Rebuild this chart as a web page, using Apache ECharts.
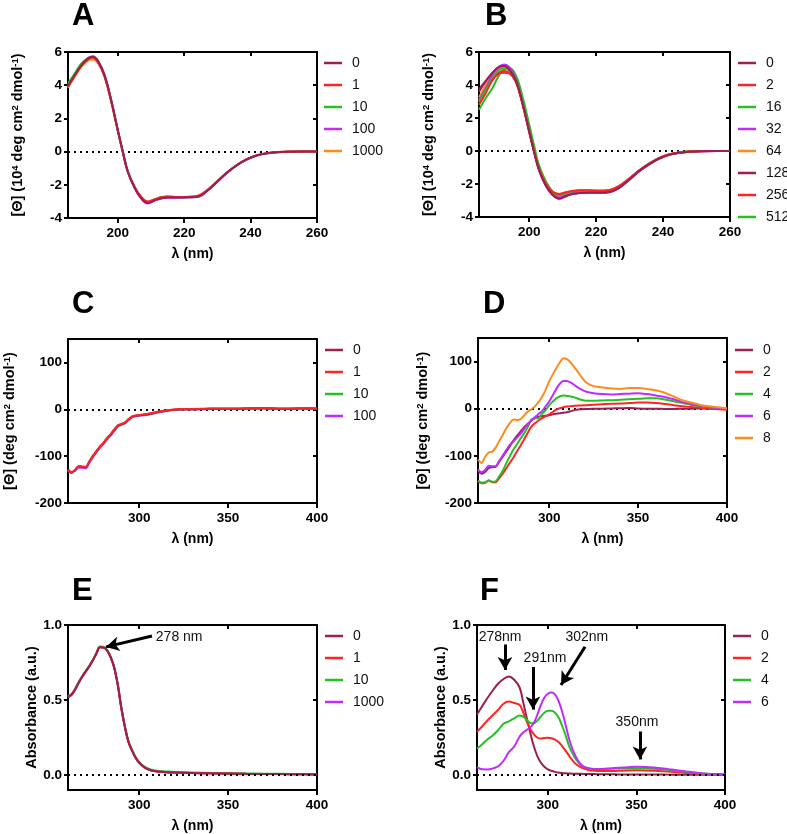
<!DOCTYPE html>
<html><head><meta charset="utf-8">
<script src="https://cdn.jsdelivr.net/npm/echarts@6/dist/echarts.min.js"></script>
<style>html,body{margin:0;padding:0;background:#fff}#c{width:787px;height:834px}</style>
</head><body><div id="c"></div>
<script>
// ---------- DATA ----------
const ticksXAB = [200, 220, 240, 260];
const ticksYAB = [-4, -2, 0, 2, 4, 6];
const ticksXCDEF = [300, 350, 400];
const ticksYCD = [-200, -100, 0, 100];
const ticksYEF = [0, 0.5, 1.0];

const wlA = [185,187,189,191,192.5,194,196,198,200,201.5,203,205,207,209,211,213,215,218,221,224,227,230,233,236,239,242,245,248,252,256,260];
const A0    = [3.95,4.6,5.2,5.6,5.72,5.45,4.6,3.1,1.3,0.0,-1.2,-2.15,-2.8,-3.1,-2.95,-2.82,-2.76,-2.76,-2.75,-2.72,-2.35,-1.8,-1.25,-0.8,-0.45,-0.22,-0.1,-0.04,-0.01,0,0];
const A1    = [3.9,4.55,5.15,5.55,5.65,5.4,4.55,3.05,1.25,-0.02,-1.2,-2.1,-2.72,-3.0,-2.88,-2.76,-2.72,-2.74,-2.73,-2.68,-2.32,-1.78,-1.24,-0.79,-0.44,-0.21,-0.09,-0.03,0,0,0];
const A10   = [4.1,4.7,5.3,5.62,5.7,5.42,4.58,3.08,1.28,0.0,-1.18,-2.12,-2.76,-3.05,-2.9,-2.74,-2.7,-2.75,-2.75,-2.7,-2.33,-1.78,-1.25,-0.8,-0.45,-0.22,-0.1,-0.04,-0.01,0,0];
const A100  = [4.0,4.65,5.25,5.65,5.75,5.5,4.65,3.12,1.3,0.0,-1.22,-2.17,-2.82,-3.12,-2.96,-2.83,-2.78,-2.78,-2.76,-2.73,-2.36,-1.82,-1.27,-0.81,-0.46,-0.23,-0.1,-0.04,-0.01,0,0];
const A1000 = [3.85,4.5,5.1,5.48,5.55,5.35,4.5,3.0,1.22,-0.03,-1.2,-2.1,-2.72,-3.02,-2.88,-2.75,-2.7,-2.73,-2.72,-2.66,-2.3,-1.77,-1.24,-0.79,-0.44,-0.21,-0.09,-0.03,0,0,0];

const wlB = [185,187,189,191,192.5,194,196,198,200,201.5,203,205,207,209,211,213,215,218,221,224,227,230,233,236,239,242,245,248,252,256,260];
const B0   = [3.75,4.25,4.75,5.1,5.15,4.95,4.3,2.9,1.2,-0.1,-1.2,-2.1,-2.65,-2.88,-2.72,-2.6,-2.54,-2.52,-2.52,-2.48,-2.2,-1.72,-1.2,-0.78,-0.44,-0.22,-0.1,-0.04,-0.01,0,0];
const B2   = [2.8,3.5,4.3,4.7,4.75,4.7,4.2,2.85,1.15,-0.05,-1.1,-2.0,-2.48,-2.6,-2.5,-2.42,-2.38,-2.38,-2.4,-2.36,-2.1,-1.65,-1.15,-0.75,-0.42,-0.2,-0.09,-0.03,0,0,0];
const B16  = [3.0,3.7,4.4,4.9,5.0,4.9,4.35,3.0,1.3,0.05,-1.1,-2.0,-2.55,-2.68,-2.56,-2.46,-2.43,-2.43,-2.45,-2.4,-2.13,-1.67,-1.17,-0.76,-0.43,-0.21,-0.09,-0.03,0,0,0];
const B32  = [3.1,3.8,4.6,5.1,5.25,5.1,4.4,2.95,1.2,-0.05,-1.15,-2.1,-2.65,-2.82,-2.66,-2.55,-2.5,-2.5,-2.5,-2.46,-2.18,-1.7,-1.19,-0.77,-0.44,-0.22,-0.1,-0.04,-0.01,0,0];
const B64  = [3.25,4.0,4.6,5.0,5.05,4.9,4.3,2.9,1.2,-0.05,-1.15,-2.05,-2.6,-2.76,-2.62,-2.5,-2.47,-2.47,-2.48,-2.44,-2.16,-1.69,-1.18,-0.77,-0.43,-0.21,-0.09,-0.03,0,0,0];
const B128 = [3.6,4.2,4.7,5.1,5.2,5.0,4.35,2.95,1.25,-0.05,-1.18,-2.1,-2.67,-2.9,-2.74,-2.6,-2.55,-2.53,-2.53,-2.5,-2.22,-1.73,-1.21,-0.79,-0.45,-0.22,-0.1,-0.04,-0.01,0,0];
const B256 = [3.0,3.6,4.3,4.75,4.85,4.75,4.2,2.85,1.18,-0.05,-1.12,-2.02,-2.52,-2.64,-2.52,-2.43,-2.4,-2.4,-2.42,-2.38,-2.11,-1.66,-1.16,-0.75,-0.42,-0.2,-0.09,-0.03,0,0,0];
const B512 = [2.5,3.2,3.8,4.6,4.95,5.05,4.6,3.3,1.6,0.3,-0.9,-1.85,-2.45,-2.62,-2.55,-2.5,-2.47,-2.47,-2.5,-2.45,-2.2,-1.72,-1.18,-0.74,-0.41,-0.2,-0.08,-0.03,0,0,0];

const wlC = [260,262,264,266,268,270,272,274,276,278,280,282,284,286,288,290,292,294,296,298,300,304,308,312,316,320,325,330,340,350,360,370,380,390,400];
const C0   = [-129,-135,-130,-122,-123,-124,-112,-100,-90,-80,-72,-62,-54,-44,-35,-32,-29,-22,-16,-14,-13,-11,-8,-5,-2.5,-1,0,0,1,1,1.5,2,1,1.5,1.5];
const C1   = [-130,-134,-129,-121,-122,-123,-111,-99,-89,-79,-71,-61,-53,-43,-34,-31,-28,-21,-15,-13,-12,-10,-7,-4,-2,-0.5,0.5,0.5,1.5,1.5,2,2.5,1.5,2,2];
const C10  = [-129,-135,-130,-122,-123,-124,-112,-100,-90,-80,-72,-62,-54,-44,-35,-32,-29,-22,-16,-14,-13,-11,-8,-5,-2.5,-1,0,0,1,1,1.5,2,1,1.5,1.5];
const C100 = [-131,-136,-131,-124,-125,-126,-114,-102,-92,-82,-74,-64,-56,-46,-37,-33,-30,-23,-17,-15,-14,-12,-9,-6,-3,-1.5,-0.5,-0.5,0.5,0.5,1,1.5,0.5,1,1];

const wlD = [260,262,264,266,268,270,272,274,276,278,280,282,284,286,288,290,292,294,296,298,300,302,304,306,308,310,312,315,318,321,325,330,335,340,345,350,355,360,365,370,375,380,385,390,395,400];
const D0 = [-132,-138,-134,-126,-124,-123,-112,-101,-90,-79,-67,-57,-48,-39,-32,-25,-20,-17,-16,-15,-14,-12,-10.6,-9.5,-8.5,-7.5,-5.5,-2.5,-1,-0.5,0,0,0.5,1,1.5,0.5,0,0,-0.5,-0.5,0,0,0.5,0,0,0];
const D2 = [-153,-158,-157,-152,-156,-156,-147,-137,-126,-114,-103,-90,-78,-65,-51,-38,-31,-25,-20,-16,-12,-7,-2,1,3,4.5,5.5,6.3,7,7.5,8.5,9.5,10.5,11,12,13,13,12,10,7.5,5,3.5,2,0,-1,-2];
const D4 = [-153,-157,-156,-153,-155,-154,-143,-131,-115,-100,-86,-75,-63,-52,-39,-23,-20,-20,-11,-3,7,15,22,26,28,27,26,23,19,17,17,17.6,18,19,20,21,22,22,19.5,16,12,8,5,3,1.5,0.7];
const D6 = [-129,-135,-130,-121,-122,-122,-110,-99,-87,-76,-69,-61,-53,-43,-33,-25,-18,-11,-5,5,15,28,42,53,59,59,56,48,41,36,33,31,30,31,32,33,31,28,25,20,14,10,6,3,1.5,0];
const D8 = [-108,-115,-102,-93,-91,-82,-68,-55,-41,-30,-23,-24,-22,-14,-6,-1,5,14,25,40,58,72,86,98,107,105,98,84,68,55,48,45,43,42,44,44,42,39,34,26,18,13,8,5,3,1];

const wlE = [260,262,264,266,268,270,272,274,276,278,280,282,284,286,288,290,292,294,296,298,300,303,306,310,315,320,330,340,350,360,370,380,390,400];
const E0    = [0.52,0.535,0.57,0.615,0.655,0.69,0.725,0.765,0.81,0.852,0.85,0.83,0.785,0.715,0.6,0.445,0.32,0.22,0.163,0.115,0.082,0.05,0.033,0.024,0.019,0.016,0.013,0.011,0.01,0.008,0.007,0.006,0.005,0.004];
const E1    = [0.52,0.535,0.57,0.615,0.655,0.69,0.725,0.765,0.81,0.851,0.849,0.829,0.784,0.714,0.6,0.445,0.32,0.22,0.163,0.115,0.082,0.05,0.033,0.024,0.019,0.016,0.013,0.011,0.01,0.008,0.007,0.006,0.005,0.004];
const E10   = [0.525,0.54,0.575,0.62,0.66,0.695,0.73,0.77,0.815,0.857,0.855,0.834,0.789,0.72,0.605,0.45,0.325,0.226,0.169,0.121,0.088,0.056,0.039,0.029,0.024,0.02,0.017,0.014,0.012,0.01,0.009,0.008,0.007,0.006];
const E1000 = [0.52,0.535,0.57,0.615,0.655,0.69,0.725,0.765,0.81,0.852,0.85,0.83,0.785,0.715,0.6,0.445,0.32,0.22,0.163,0.115,0.082,0.05,0.033,0.024,0.019,0.016,0.013,0.011,0.01,0.008,0.007,0.006,0.005,0.004];

const wlF = [260,263,266,269,272,275,278,281,284,286,288,290,292,294,296,298,300,302,304,306,308,310,312,314,316,318,320,323,326,330,335,340,345,350,355,360,365,370,375,380,385,390,395,400];
const F0 = [0.403,0.46,0.515,0.565,0.61,0.64,0.657,0.635,0.585,0.49,0.385,0.285,0.195,0.128,0.083,0.055,0.038,0.028,0.021,0.016,0.013,0.011,0.01,0.009,0.009,0.008,0.007,0.006,0.006,0.005,0.005,0.004,0.004,0.004,0.003,0.003,0.003,0.002,0.002,0.002,0.001,0.001,0.001,0];
const F2 = [0.288,0.325,0.365,0.4,0.435,0.475,0.49,0.48,0.468,0.42,0.36,0.31,0.272,0.25,0.243,0.247,0.248,0.245,0.236,0.22,0.193,0.162,0.128,0.096,0.072,0.056,0.045,0.034,0.029,0.026,0.026,0.028,0.03,0.031,0.03,0.028,0.025,0.021,0.016,0.012,0.008,0.006,0.004,0.003];
const F4 = [0.177,0.205,0.238,0.265,0.3,0.342,0.358,0.378,0.396,0.39,0.37,0.347,0.345,0.362,0.39,0.415,0.428,0.428,0.415,0.385,0.33,0.265,0.193,0.143,0.102,0.075,0.056,0.045,0.04,0.04,0.042,0.043,0.044,0.044,0.043,0.041,0.038,0.032,0.025,0.018,0.012,0.008,0.005,0.004];
const F6 = [0.053,0.038,0.037,0.044,0.058,0.095,0.152,0.19,0.255,0.283,0.3,0.316,0.345,0.4,0.465,0.515,0.542,0.55,0.538,0.495,0.425,0.335,0.24,0.17,0.117,0.08,0.058,0.044,0.039,0.04,0.044,0.048,0.052,0.055,0.054,0.05,0.044,0.036,0.028,0.021,0.014,0.009,0.006,0.004];

// annotations (data coordinates)
const annE_text = ['278 nm'];
const annE_textPos = [[322.5, 0.92]];
const annE_from = [[307.2, 0.927]];
const annE_to = [[281.4, 0.854]];
const annF_text = ['278nm', '291nm', '302nm', '350nm'];
const annF_textPos = [[273, 0.92], [298.4, 0.78], [322, 0.92], [350.3, 0.35]];
const annF_from = [[275.8, 0.87], [291.6, 0.72], [321, 0.855], [352, 0.29]];
const annF_to = [[275.8, 0.70], [291.6, 0.436], [307.4, 0.60], [352, 0.104]];

// ---------- STYLE ----------
const FONT = '"Liberation Sans", Arial, Helvetica, sans-serif';
const COL = {maroon: '#9c1f52', red: '#ff2424', green: '#24c024', purple: '#bf2cff', orange: '#ff8c1a'};
const pairs = (wl, ys) => wl.map((x, i) => [x, ys[i]]);

const nameCD4 = '[Θ] (10{s|4} deg cm{s|2} dmol{s|-1})';
const nameCD = '[Θ] (deg cm{s|2} dmol{s|-1})';
const nameAbs = 'Absorbance (a.u.)';

const panels = [
  {k: 'A', grid: {left: 68, top: 52, width: 249, height: 166}, xr: [185, 260], xt: ticksXAB, yr: [-4, 6], yt: ticksYAB, yf: v => String(v),
   yn: nameCD4, yg: 43, wl: wlA, leg: {left: 324, top: 56},
   s: [['0', A0, 'maroon'], ['1', A1, 'red'], ['10', A10, 'green'], ['100', A100, 'purple'], ['1000', A1000, 'orange']], order: [4, 3, 2, 1, 0]},
  {k: 'B', grid: {left: 479, top: 52, width: 251, height: 165}, xr: [185, 260], xt: ticksXAB, yr: [-4, 6], yt: ticksYAB, yf: v => String(v),
   yn: nameCD4, yg: 43, wl: wlB, leg: {left: 738, top: 56},
   s: [['0', B0, 'maroon'], ['2', B2, 'red'], ['16', B16, 'green'], ['32', B32, 'purple'], ['64', B64, 'orange'], ['128', B128, 'maroon'], ['256', B256, 'red'], ['512', B512, 'green']], order: [7, 6, 5, 4, 3, 2, 1, 0]},
  {k: 'C', grid: {left: 68, top: 339, width: 249, height: 164}, xr: [260, 400], xt: ticksXCDEF, yr: [-200, 150], yt: ticksYCD, yf: v => String(v),
   yn: nameCD, yg: 51, wl: wlC, leg: {left: 325, top: 343},
   s: [['0', C0, 'maroon'], ['1', C1, 'red'], ['10', C10, 'green'], ['100', C100, 'purple']], order: [3, 2, 0, 1]},
  {k: 'D', grid: {left: 478, top: 338, width: 249, height: 165}, xr: [260, 400], xt: ticksXCDEF, yr: [-200, 150], yt: ticksYCD, yf: v => String(v),
   yn: nameCD, yg: 48, wl: wlD, leg: {left: 735, top: 343},
   s: [['0', D0, 'maroon'], ['2', D2, 'red'], ['4', D4, 'green'], ['6', D6, 'purple'], ['8', D8, 'orange']], order: [0, 1, 2, 3, 4]},
  {k: 'E', grid: {left: 68, top: 625, width: 249, height: 165}, xr: [260, 400], xt: ticksXCDEF, yr: [-0.1, 1.0], yt: ticksYEF, yf: v => v.toFixed(1),
   yn: nameAbs, yg: 29, wl: wlE, leg: {left: 325, top: 629},
   s: [['0', E0, 'maroon'], ['1', E1, 'red'], ['10', E10, 'green'], ['1000', E1000, 'purple']], order: [3, 2, 1, 0]},
  {k: 'F', grid: {left: 477, top: 625, width: 248, height: 165}, xr: [260, 400], xt: ticksXCDEF, yr: [-0.1, 1.0], yt: ticksYEF, yf: v => v.toFixed(1),
   yn: nameAbs, yg: 29, wl: wlF, leg: {left: 733, top: 629},
   s: [['0', F0, 'maroon'], ['2', F2, 'red'], ['4', F4, 'green'], ['6', F6, 'purple']], order: [0, 1, 2, 3]}
];

const letters = [
  {t: 'A', left: 72, top: 1}, {t: 'B', left: 485, top: 1},
  {t: 'C', left: 72, top: 289}, {t: 'D', left: 483, top: 289},
  {t: 'E', left: 72, top: 576}, {t: 'F', left: 480, top: 576}
];

const grids = [], xAxes = [], yAxes = [], series = [], legends = [];
const lineCol = '#000';
panels.forEach((p, i) => {
  grids.push(Object.assign({containLabel: false}, p.grid));
  const xi = xAxes.length, yi = yAxes.length;
  xAxes.push({
    type: 'value', gridIndex: i, min: p.xr[0], max: p.xr[1], position: 'bottom',
    axisLine: {show: true, onZero: false, lineStyle: {color: lineCol, width: 2}},
    axisTick: {show: true, inside: false, length: 5, lineStyle: {color: lineCol, width: 2}, customValues: p.xt},
    axisLabel: {show: true, customValues: p.xt, margin: 8, color: '#000', fontWeight: 'bold', fontSize: 13.5, fontFamily: FONT},
    splitLine: {show: false},
    name: 'λ (nm)', nameLocation: 'middle', nameGap: 29,
    nameTextStyle: {fontWeight: 'bold', fontSize: 14, color: '#000', fontFamily: FONT}
  });
  xAxes.push({
    type: 'value', gridIndex: i, min: p.xr[0], max: p.xr[1], position: 'top',
    axisLine: {show: true, onZero: false, lineStyle: {color: lineCol, width: 2}},
    axisTick: {show: true, inside: true, length: 4, lineStyle: {color: lineCol, width: 2}, customValues: p.xt},
    axisLabel: {show: false}, splitLine: {show: false}
  });
  yAxes.push({
    type: 'value', gridIndex: i, min: p.yr[0], max: p.yr[1], position: 'left',
    axisLine: {show: true, onZero: false, lineStyle: {color: lineCol, width: 2}},
    axisTick: {show: true, inside: false, length: 4, lineStyle: {color: lineCol, width: 2}, customValues: p.yt},
    axisLabel: {show: true, customValues: p.yt, formatter: p.yf, margin: 6, color: '#000', fontWeight: 'bold', fontSize: 13.5, fontFamily: FONT},
    splitLine: {show: false},
    name: p.yn, nameLocation: 'middle', nameGap: p.yg, nameRotate: 90,
    nameTextStyle: {fontWeight: 'bold', fontSize: 14.5, color: '#000', fontFamily: FONT,
      rich: {s: {fontSize: 9.5, fontWeight: 'bold', color: '#000', fontFamily: FONT, verticalAlign: 'top', lineHeight: 15}}}
  });
  yAxes.push({
    type: 'value', gridIndex: i, min: p.yr[0], max: p.yr[1], position: 'right',
    axisLine: {show: true, onZero: false, lineStyle: {color: lineCol, width: 2}},
    axisTick: {show: true, inside: true, length: 4, lineStyle: {color: lineCol, width: 2}, customValues: p.yt},
    axisLabel: {show: false}, splitLine: {show: false}
  });

  const names = p.s.map(s => p.k + '_' + s[0]);
  p.order.forEach((idx, n) => {
    const s = p.s[idx];
    const ser = {
      type: 'line', name: p.k + '_' + s[0], xAxisIndex: xi, yAxisIndex: yi,
      data: pairs(p.wl, s[1]), showSymbol: false, symbol: 'none',
      smooth: (p.k === 'D' || p.k === 'C') ? 0.25 : 0.4,
      lineStyle: {width: 2, color: COL[s[2]]}, itemStyle: {color: COL[s[2]]},
      emphasis: {disabled: true}, z: 3 + n
    };
    if (n === 0) {
      const ml = [{yAxis: 0, symbol: 'none', lineStyle: {type: [2, 4], width: 2, color: '#000', cap: 'butt'}}];
      const mp = [];
      const addAnn = (txt, tp, fr, to) => {
        txt.forEach((t, j) => {
          ml.push([{coord: fr[j], symbol: 'none', lineStyle: {type: 'solid', width: 3, color: '#000'}},
                   {coord: to[j], symbol: 'arrow', symbolSize: [11, 13]}]);
          mp.push({name: t, coord: tp[j]});
        });
      };
      if (p.k === 'E') addAnn(annE_text, annE_textPos, annE_from, annE_to);
      if (p.k === 'F') addAnn(annF_text, annF_textPos, annF_from, annF_to);
      ser.markLine = {silent: true, symbol: ['none', 'none'], label: {show: false}, data: ml, z: 2, animation: false, emphasis: {disabled: true}};
      if (mp.length) {
        ser.markPoint = {silent: true, symbol: 'circle', symbolSize: 1, itemStyle: {color: 'rgba(0,0,0,0)'},
          label: {show: true, position: 'inside', formatter: q => q.name, color: '#111', fontSize: 14, fontFamily: FONT},
          data: mp, z: 20, animation: false};
        ser.markLine.z = 20;
      }
    }
    series.push(ser);
  });

  legends.push({
    show: true, orient: 'vertical', left: p.leg.left, top: p.leg.top, data: names, padding: 0,
    icon: 'rect', itemWidth: 18, itemHeight: 2.5, itemGap: 8, selectedMode: false,
    formatter: n => n.slice(n.indexOf('_') + 1),
    textStyle: {fontSize: 14, color: '#111', fontFamily: FONT, padding: [0, 0, 0, 5], lineHeight: 14}
  });
});

const graphics = letters.map(l => ({
  type: 'text', left: l.left, top: l.top,
  style: {text: l.t, font: 'bold 31px ' + FONT, fill: '#000'}
}));

const chart = echarts.init(document.getElementById('c'), null, {renderer: 'canvas'});
chart.setOption({
  animation: false, backgroundColor: '#fff',
  grid: grids, xAxis: xAxes, yAxis: yAxes, series: series, legend: legends, graphic: graphics
});
</script></body></html>
